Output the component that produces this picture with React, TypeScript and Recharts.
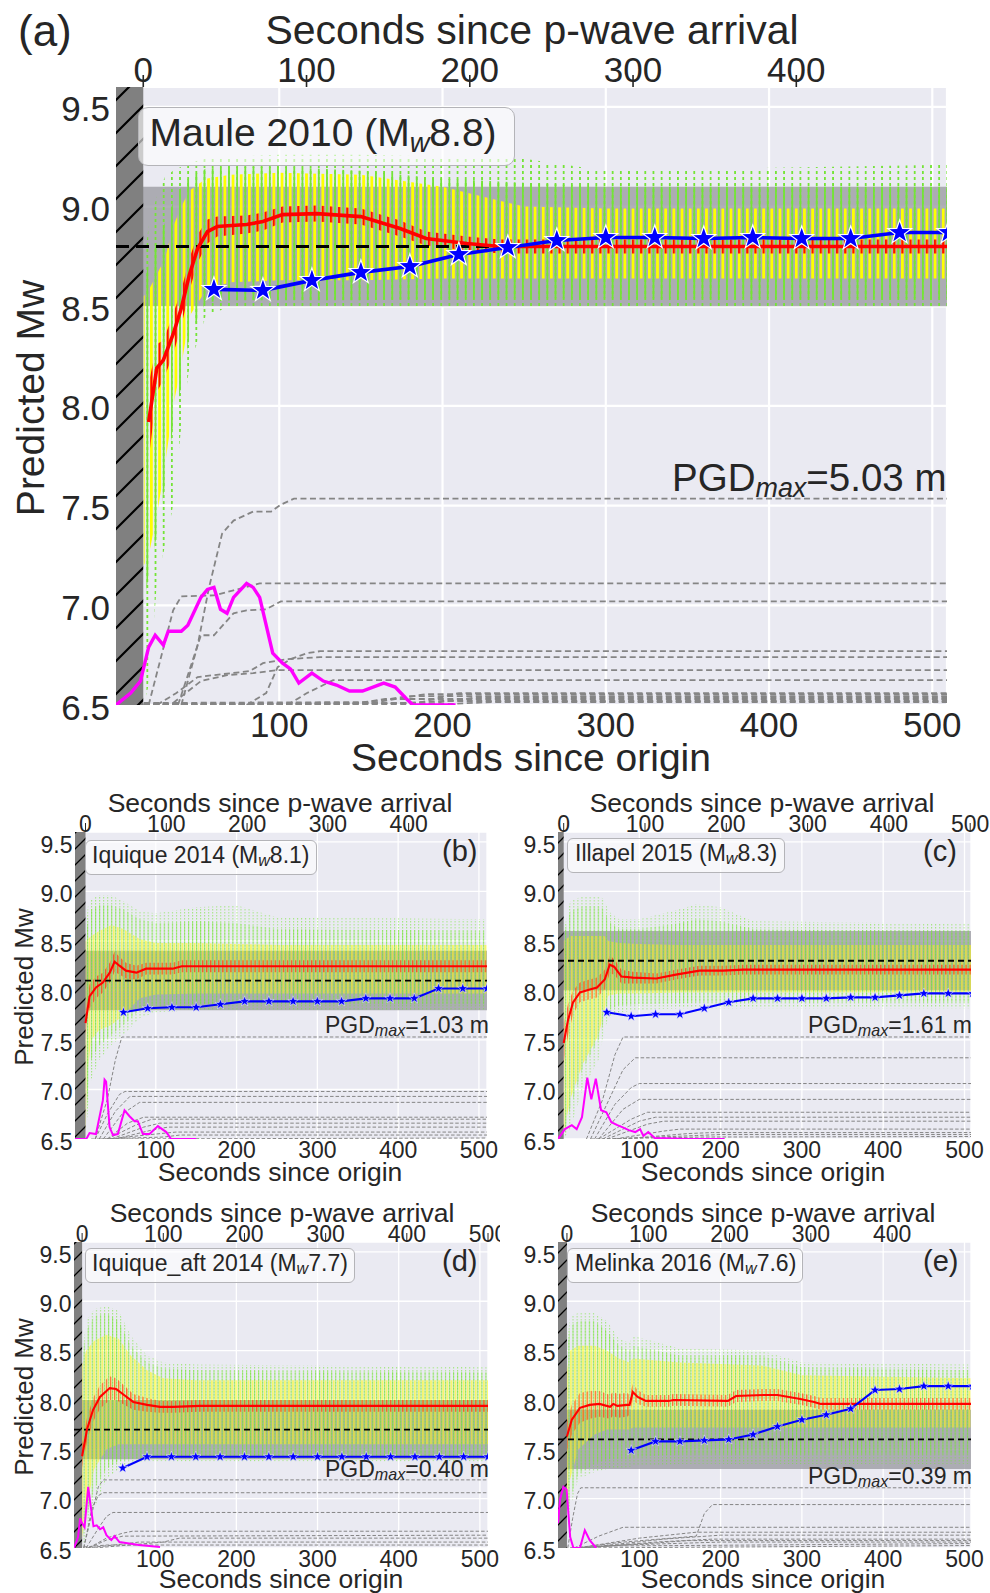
import React from "react"
import { ComposedChart, Area, Line, XAxis, YAxis, CartesianGrid, ReferenceArea, ReferenceLine } from "recharts"

// ---------- shared ticks ----------
const mwTicks = [6.5, 7.0, 7.5, 8.0, 8.5, 9.0, 9.5]
const originTicks = [100, 200, 300, 400, 500]
const pwaveTicks4 = [0, 100, 200, 300, 400]
const pwaveTicks5 = [0, 100, 200, 300, 400, 500]
const blueT30 = [60, 90, 120, 150, 180, 210, 240, 270, 300, 330, 360, 390, 420, 450, 480, 510]

// ---------- (a) Maule 2010 ----------
const maulePArrival = 16.7
const mauleMw = 8.8
const mauleRedT = [20, 25, 29, 35, 40, 45, 50, 56, 62, 80, 90, 102, 123, 150, 174, 190, 215, 235, 509]
const mauleRedMw = [7.92, 8.19, 8.23, 8.36, 8.49, 8.66, 8.79, 8.875, 8.9, 8.91, 8.925, 8.96, 8.965, 8.95, 8.89, 8.84, 8.815, 8.8, 8.8]
const mauleRedErr = [0.19, 0.12, 0.1, 0.1, 0.09, 0.08, 0.07, 0.06, 0.05, 0.045, 0.045, 0.04, 0.04, 0.04, 0.04, 0.035, 0.035, 0.035, 0.035]
const mauleBlueMw = [8.585, 8.58, 8.63, 8.67, 8.7, 8.76, 8.795, 8.83, 8.845, 8.845, 8.84, 8.845, 8.84, 8.84, 8.87, 8.87]
const mauleMagT = [0, 9, 15, 20, 24, 29, 32, 40, 44, 52, 56, 60, 64, 68, 72, 80, 84, 88, 96, 102, 107, 112, 120, 127, 135, 143, 151, 164, 171, 178, 182, 208]
const mauleMagMw = [6.5, 6.56, 6.62, 6.79, 6.85, 6.8, 6.87, 6.87, 6.9, 7.04, 7.08, 7.09, 6.98, 6.96, 7.04, 7.11, 7.09, 7.04, 6.76, 6.71, 6.68, 6.61, 6.66, 6.62, 6.6, 6.57, 6.57, 6.61, 6.59, 6.53, 6.5, 6.5]
const mauleEnvT = [17, 20, 25, 30, 35, 40, 45, 55, 70, 100, 150, 200, 250, 300, 509]
const mauleYLo = [7.2, 7.25, 7.45, 7.7, 8.0, 8.2, 8.45, 8.58, 8.62, 8.63, 8.63, 8.64, 8.64, 8.64, 8.64]
const mauleYHi = [8.55, 8.58, 8.66, 8.74, 8.9, 9.0, 9.08, 9.14, 9.16, 9.17, 9.16, 9.1, 9.0, 8.99, 8.99]
const mauleGLo = [7.0, 7.15, 7.35, 7.6, 7.9, 8.1, 8.35, 8.52, 8.53, 8.53, 8.53, 8.54, 8.54, 8.54, 8.54]
const mauleGHi = [8.6, 8.72, 8.82, 8.92, 9.02, 9.1, 9.15, 9.19, 9.2, 9.2, 9.18, 9.14, 9.12, 9.1, 9.1]
const mauleDLo = [6.5, 6.6, 7.1, 7.3, 7.5, 7.9, 8.2, 8.45, 8.5, 8.5, 8.5, 8.5, 8.5, 8.5, 8.5]
const mauleDHi = [8.7, 8.9, 9.05, 9.15, 9.18, 9.2, 9.22, 9.24, 9.25, 9.26, 9.26, 9.25, 9.24, 9.18, 9.21]
const maulePgd = [
  [[40, 6.5], [50, 6.8], [57, 7.09], [65, 7.36], [72, 7.425], [84, 7.47], [95, 7.47], [101, 7.505], [109, 7.535], [509, 7.535]],
  [[20, 6.5], [35, 6.975], [40, 7.045], [60, 7.05], [72, 7.075], [88, 7.11], [509, 7.11]],
  [[38, 6.5], [52, 6.85], [60, 6.85], [72, 6.96], [80, 6.975], [92, 6.98], [101, 7.02], [509, 7.02]],
  [[80, 6.5], [92, 6.56], [99, 6.69], [107, 6.73], [117, 6.76], [125, 6.77], [509, 6.77]],
  [[25, 6.5], [37, 6.56], [50, 6.64], [60, 6.65], [82, 6.67], [90, 6.71], [105, 6.73], [125, 6.74], [509, 6.74]],
  [[35, 6.51], [52, 6.62], [68, 6.65], [84, 6.66], [99, 6.675], [509, 6.675]],
  [[105, 6.5], [117, 6.56], [127, 6.6], [133, 6.625], [509, 6.625]],
  [[17, 6.5], [140, 6.5], [165, 6.53], [509, 6.53]],
  [[17, 6.505], [150, 6.51], [180, 6.545], [509, 6.545]],
  [[17, 6.51], [160, 6.515], [190, 6.555], [509, 6.555]],
  [[17, 6.5], [175, 6.51], [200, 6.52], [509, 6.52]],
  [[17, 6.505], [185, 6.51], [210, 6.56], [509, 6.56]],
  [[17, 6.5], [195, 6.51], [220, 6.538], [509, 6.538]],
  [[17, 6.5], [205, 6.505], [230, 6.515], [509, 6.515]],
]

// ---------- (b) Iquique 2014 ----------
const iqqPArrival = 13
const iqqMw = 8.1
const iqqRedT = [13, 18, 26, 34.5, 43, 49, 55, 63, 76, 88, 121, 132, 510]
const iqqRedMw = [7.67, 7.94, 8.03, 8.08, 8.18, 8.29, 8.25, 8.2, 8.18, 8.22, 8.22, 8.245, 8.245]
const iqqRedErr = [0.12, 0.12, 0.11, 0.1, 0.1, 0.1, 0.09, 0.08, 0.07, 0.06, 0.06, 0.06, 0.06]
const iqqBlueMw = [7.78, 7.82, 7.83, 7.83, 7.86, 7.89, 7.89, 7.89, 7.89, 7.89, 7.92, 7.92, 7.92, 8.02, 8.02, 8.02]
const iqqMagT = [0, 14, 18, 26, 34.5, 36.6, 38.5, 42.8, 47, 53, 61.3, 67.5, 73.7, 77.8, 84, 92.3, 102.6, 113, 119, 150]
const iqqMagMw = [6.5, 6.5, 6.56, 6.55, 6.89, 7.1, 7.08, 6.62, 6.54, 6.55, 6.79, 6.73, 6.68, 6.68, 6.55, 6.55, 6.63, 6.57, 6.5, 6.5]
const iqqEnvT = [13, 16, 20, 30, 45, 60, 80, 100, 150, 200, 250, 510]
const iqqYLo = [6.55, 7.2, 7.5, 7.6, 7.65, 7.75, 7.92, 7.96, 7.97, 7.97, 7.97, 7.97]
const iqqYHi = [8.5, 8.52, 8.55, 8.6, 8.66, 8.62, 8.52, 8.48, 8.48, 8.47, 8.46, 8.46]
const iqqGLo = [6.5, 7.0, 7.3, 7.45, 7.55, 7.65, 7.8, 7.85, 7.86, 7.86, 7.86, 7.86]
const iqqGHi = [8.52, 8.7, 8.82, 8.86, 8.86, 8.82, 8.72, 8.68, 8.7, 8.68, 8.62, 8.6]
const iqqDLo = [6.5, 6.8, 7.1, 7.3, 7.45, 7.55, 7.72, 7.78, 7.8, 7.8, 7.8, 7.8]
const iqqDHi = [8.55, 8.85, 8.92, 8.96, 8.96, 8.9, 8.8, 8.78, 8.84, 8.86, 8.74, 8.72]
const iqqPgd = [
  [[25, 6.5], [40, 6.9], [50, 7.3], [58, 7.53], [510, 7.53]],
  [[25, 6.5], [40, 6.75], [55, 6.95], [62, 6.98], [510, 6.98]],
  [[30, 6.5], [50, 6.78], [68, 6.93], [510, 6.93]],
  [[35, 6.5], [58, 6.75], [80, 6.87], [510, 6.87]],
  [[40, 6.5], [65, 6.66], [85, 6.72], [510, 6.72]],
  [[40, 6.5], [75, 6.64], [95, 6.7], [510, 6.7]],
  [[45, 6.5], [85, 6.62], [105, 6.66], [510, 6.66]],
  [[50, 6.5], [95, 6.59], [115, 6.62], [510, 6.62]],
  [[40, 6.5], [100, 6.55], [125, 6.57], [510, 6.57]],
  [[30, 6.5], [110, 6.52], [130, 6.54], [510, 6.54]],
  [[20, 6.5], [510, 6.51]],
]

// ---------- (c) Illapel 2015 ----------
const illPArrival = 7
const illMw = 8.3
const illRedT = [7, 12.3, 18.5, 27, 39, 48, 57.5, 63.6, 69, 78, 92, 121, 145, 174, 203, 228, 508]
const illRedMw = [7.47, 7.7, 7.88, 7.98, 8.01, 8.03, 8.11, 8.26, 8.24, 8.14, 8.13, 8.12, 8.16, 8.2, 8.2, 8.21, 8.21]
const illRedErr = [0.2, 0.16, 0.12, 0.1, 0.1, 0.1, 0.1, 0.09, 0.08, 0.07, 0.06, 0.05, 0.05, 0.05, 0.05, 0.05, 0.05]
const illBlueMw = [7.78, 7.74, 7.76, 7.76, 7.82, 7.88, 7.92, 7.92, 7.92, 7.92, 7.93, 7.93, 7.95, 7.97, 7.97, 7.97]
const illMagT = [0, 8.5, 17, 23, 29.5, 36, 41, 46.5, 53, 59.5, 65.6, 73, 79, 87, 95, 101, 105, 111, 119, 160, 205]
const illMagMw = [6.5, 6.6, 6.64, 6.6, 6.72, 7.12, 6.9, 7.11, 6.79, 6.77, 6.67, 6.64, 6.62, 6.59, 6.57, 6.6, 6.53, 6.57, 6.51, 6.5, 6.5]
const illEnvT = [7, 15, 30, 50, 57, 62, 75, 100, 150, 170, 200, 240, 508]
const illYLo = [6.55, 6.9, 7.25, 7.55, 7.8, 7.95, 7.97, 7.97, 7.98, 7.98, 7.98, 7.98, 7.98]
const illYHi = [8.5, 8.55, 8.55, 8.55, 8.55, 8.5, 8.48, 8.47, 8.46, 8.46, 8.46, 8.46, 8.46]
const illGLo = [6.5, 6.8, 7.2, 7.5, 7.7, 7.8, 7.85, 7.86, 7.87, 7.88, 7.88, 7.88, 7.88]
const illGHi = [8.55, 8.8, 8.85, 8.85, 8.82, 8.7, 8.62, 8.62, 8.68, 8.72, 8.7, 8.62, 8.6]
const illDLo = [6.5, 6.6, 7.0, 7.3, 7.6, 7.72, 7.78, 7.8, 7.82, 7.82, 7.82, 7.82, 7.82]
const illDHi = [8.6, 8.9, 8.95, 8.95, 8.92, 8.8, 8.72, 8.72, 8.82, 8.87, 8.84, 8.7, 8.67]
const illPgd = [
  [[35, 6.5], [55, 6.9], [70, 7.35], [80, 7.53], [508, 7.53]],
  [[40, 6.5], [60, 6.85], [80, 7.2], [95, 7.32], [508, 7.32]],
  [[45, 6.5], [70, 6.85], [90, 7.02], [100, 7.06], [508, 7.06]],
  [[50, 6.5], [80, 6.8], [100, 6.9], [508, 6.9]],
  [[50, 6.5], [90, 6.7], [110, 6.77], [508, 6.77]],
  [[55, 6.5], [100, 6.68], [120, 6.72], [508, 6.72]],
  [[60, 6.5], [110, 6.65], [130, 6.68], [508, 6.68]],
  [[70, 6.5], [130, 6.58], [150, 6.6], [508, 6.6]],
  [[80, 6.5], [160, 6.555], [190, 6.565], [508, 6.565]],
  [[60, 6.5], [170, 6.535], [200, 6.545], [508, 6.545]],
  [[40, 6.5], [180, 6.52], [508, 6.525]],
]

// ---------- (d) Iquique_aft 2014 ----------
const aftPArrival = 10
const aftMw = 7.7
const aftRedT = [10, 16, 23.5, 32, 44, 52, 60, 73, 90, 106, 122, 155, 510]
const aftRedMw = [7.43, 7.7, 7.9, 8.03, 8.12, 8.11, 8.06, 7.98, 7.95, 7.93, 7.93, 7.94, 7.94]
const aftRedErr = [0.12, 0.12, 0.12, 0.12, 0.12, 0.11, 0.1, 0.08, 0.07, 0.06, 0.06, 0.06, 0.06]
const aftBlueMw = [7.31, 7.425, 7.425, 7.425, 7.425, 7.425, 7.425, 7.425, 7.425, 7.425, 7.425, 7.425, 7.425, 7.425, 7.425, 7.425]
const aftMagT = [0, 5, 7.5, 10, 13, 17.5, 20, 24, 28, 32, 36, 40, 46, 50, 56, 64, 80, 106]
const aftMagMw = [6.5, 6.61, 6.8, 6.75, 6.71, 7.12, 6.96, 6.72, 6.73, 6.69, 6.71, 6.63, 6.58, 6.62, 6.56, 6.55, 6.53, 6.51]
const aftEnvT = [10, 15, 25, 40, 55, 70, 90, 110, 150, 510]
const aftYLo = [6.6, 6.9, 7.3, 7.5, 7.55, 7.55, 7.55, 7.55, 7.55, 7.55]
const aftYHi = [8.35, 8.5, 8.6, 8.66, 8.62, 8.45, 8.3, 8.22, 8.2, 8.2]
const aftGLo = [6.55, 6.8, 7.1, 7.3, 7.38, 7.4, 7.42, 7.42, 7.42, 7.42]
const aftGHi = [8.4, 8.7, 8.85, 8.88, 8.8, 8.55, 8.38, 8.32, 8.3, 8.28]
const aftDLo = [6.5, 6.6, 6.9, 7.2, 7.3, 7.35, 7.38, 7.38, 7.38, 7.38]
const aftDHi = [8.45, 8.8, 8.92, 8.95, 8.9, 8.65, 8.45, 8.38, 8.36, 8.33]
const aftPgd = [
  [[12, 6.5], [22, 6.85], [30, 7.12], [36, 7.19], [510, 7.19]],
  [[12, 6.5], [22, 6.9], [30, 7.03], [36, 7.06], [510, 7.06]],
  [[15, 6.5], [30, 6.7], [40, 6.82], [48, 6.86], [510, 6.86]],
  [[18, 6.5], [40, 6.6], [60, 6.65], [72, 6.67], [510, 6.67]],
  [[18, 6.5], [40, 6.58], [60, 6.62], [510, 6.63]],
  [[25, 6.5], [110, 6.56], [130, 6.6], [510, 6.6]],
  [[15, 6.5], [60, 6.54], [80, 6.56], [510, 6.56]],
  [[12, 6.51], [40, 6.53], [510, 6.53]],
]

// ---------- (e) Melinka 2016 ----------
const melPArrival = 11
const melMw = 7.6
const melRedT = [11, 17, 27, 39, 51, 64, 68, 73, 85, 88, 92, 98, 108, 136, 142, 209, 219, 253, 270, 298, 315, 323, 508]
const melRedMw = [7.63, 7.8, 7.92, 7.95, 7.96, 7.93, 7.96, 7.94, 7.95, 7.95, 8.08, 8.03, 7.99, 7.99, 8.0, 7.99, 8.04, 8.05, 8.05, 8.01, 7.98, 7.96, 7.96]
const melRedErr = [0.15, 0.15, 0.15, 0.14, 0.13, 0.12, 0.12, 0.12, 0.12, 0.1, 0.08, 0.07, 0.06, 0.06, 0.06, 0.06, 0.06, 0.06, 0.06, 0.06, 0.06, 0.06, 0.06]
const melBlueT = [90, 120, 150, 180, 210, 240, 270, 300, 330, 360, 390, 420, 450, 480, 510]
const melBlueMw = [7.49, 7.58, 7.58, 7.59, 7.6, 7.65, 7.73, 7.8, 7.85, 7.91, 8.1, 8.11, 8.14, 8.14, 8.14]
const melMagT = [0, 2.5, 6.6, 10.6, 15, 19, 27, 33, 39, 47]
const melMagMw = [6.75, 6.99, 7.12, 7.09, 6.61, 6.5, 6.5, 6.68, 6.58, 6.5]
const melEnvT = [11, 15, 25, 45, 60, 75, 88, 92, 150, 250, 300, 508]
const melYLo = [6.9, 7.2, 7.5, 7.65, 7.7, 7.7, 7.7, 7.72, 7.72, 7.72, 7.72, 7.72]
const melYHi = [8.3, 8.5, 8.55, 8.55, 8.5, 8.42, 8.38, 8.42, 8.38, 8.35, 8.25, 8.22]
const melGLo = [6.7, 7.0, 7.25, 7.35, 7.4, 7.4, 7.4, 7.42, 7.45, 7.45, 7.45, 7.45]
const melGHi = [8.5, 8.75, 8.8, 8.8, 8.7, 8.55, 8.5, 8.55, 8.45, 8.45, 8.33, 8.3]
const melDLo = [6.6, 6.9, 7.2, 7.27, 7.3, 7.3, 7.32, 7.33, 7.35, 7.35, 7.35, 7.35]
const melDHi = [8.6, 8.85, 8.88, 8.88, 8.8, 8.62, 8.58, 8.65, 8.52, 8.5, 8.38, 8.36]
const melPgd = [
  [[12, 6.5], [18, 6.8], [24, 7.05], [28, 7.11], [508, 7.11]],
  [[20, 6.5], [80, 6.56], [170, 6.62], [180, 6.85], [190, 6.94], [508, 6.94]],
  [[20, 6.5], [50, 6.62], [80, 6.71], [508, 6.71]],
  [[25, 6.5], [100, 6.6], [170, 6.66], [508, 6.66]],
  [[30, 6.5], [130, 6.59], [200, 6.63], [508, 6.63]],
  [[30, 6.5], [120, 6.56], [190, 6.59], [508, 6.59]],
  [[25, 6.5], [100, 6.54], [160, 6.575], [508, 6.575]],
  [[20, 6.5], [80, 6.53], [200, 6.56], [508, 6.56]],
  [[15, 6.5], [60, 6.52], [508, 6.545]],
  [[15, 6.5], [508, 6.525]],
]

// ---------- styling ----------
const INK = "#262626"
const FONT = '"Liberation Sans", Arial, Helvetica, sans-serif'
const BIG = {
  tickFs: 35, gridW: 2.2, lineW: 3.6, magW: 3.4, star: 12.5, starSW: 1.2, dashW: 3, dashArr: "13 7",
  pgdW: 1.8, pgdDash: "6 3.5", hatch: 33, hatchW: 2.2, topLen: 12, topDy: -5, botDy: 32, yGap: 6, yDy: 14.5,
  yW: 2.8, yOp: 1, gW: 1.8, gOp: 1, dotH: 6, dotL: 3, rW: 2.2, rOp: 0.95, tickW: 1.6,
}
const SMALL = {
  tickFs: 23, gridW: 1.3, lineW: 2.1, magW: 2, star: 5.5, starSW: 0.5, dashW: 1.8, dashArr: "6 4",
  pgdW: 1, pgdDash: "3.5 2", hatch: 16, hatchW: 1.3, topLen: 9, topDy: -0.5, botDy: 19, yGap: 2.5, yDy: 10.7,
  yW: 2, yOp: 0.55, gW: 1, gOp: 0.6, dotH: 3, dotL: 1.5, rW: 1.3, rOp: 0.55, tickW: 1,
}

const band = (t: number[], lo: number[], hi: number[]) => t.map((x, i) => ({ t: x, lo: lo[i], hi: hi[i] }))
const zip = (t: number[], v: number[]) => t.map((x, i) => ({ t: x, v: v[i] }))
const pairs = (c: number[][]) => c.map(([t, v]) => ({ t, v }))
const rangeKey = (d: any) => [d.lo, d.hi]

function Star({ cx, cy, r, sw }: any) {
  const pts: string[] = []
  for (let i = 0; i < 10; i++) {
    const a = -Math.PI / 2 + (i * Math.PI) / 5
    const rr = i % 2 === 0 ? r : r * 0.4
    pts.push(`${cx + rr * Math.cos(a)},${cy + rr * Math.sin(a)}`)
  }
  return <polygon points={pts.join(" ")} fill="#0000ff" stroke="#ffffff" strokeWidth={sw} />
}

type Lay = { left: number; top: number; wY: number; plotW: number; plotH: number; hTop: number; hBot: number; mr: number; xMax: number }

function Panel({ ev, lay, big }: { ev: any; lay: Lay; big: boolean }) {
  const S = big ? BIG : SMALL
  const pxs = lay.plotW / lay.xMax
  const P = 5 * pxs
  const x0 = lay.wY + ev.pArr * pxs
  const id = ev.id
  const H = S.hatch

  const yTick = (p: any) => (
    <text x={p.x - S.yGap} y={p.y + S.yDy} textAnchor="end" fontSize={S.tickFs} fill={INK} fontFamily={FONT}>
      {Number(p.payload.value).toFixed(1)}
    </text>
  )
  const botTick = (p: any) => (
    <text x={p.x} y={p.y + S.botDy} textAnchor="middle" fontSize={S.tickFs} fill={INK} fontFamily={FONT}>
      {p.payload.value}
    </text>
  )
  const topTick = (p: any) => (
    <g>
      <text x={p.x} y={p.y + S.topDy} textAnchor="middle" fontSize={S.tickFs} fill={INK} fontFamily={FONT}>
        {p.payload.value}
      </text>
      <line x1={p.x} x2={p.x} y1={p.y} y2={p.y - S.topLen} stroke={INK} strokeWidth={S.tickW} />
    </g>
  )

  return (
    <div style={{ position: "absolute", left: lay.left, top: lay.top }}>
      <svg width={0} height={0} style={{ position: "absolute" }}>
        <defs>
          <pattern id={`${id}-y`} patternUnits="userSpaceOnUse" x={x0 - S.yW / 2} y={0} width={P} height={10}>
            <rect x={0} y={0} width={S.yW} height={10} fill="#ffff00" fillOpacity={S.yOp} />
          </pattern>
          <pattern id={`${id}-g`} patternUnits="userSpaceOnUse" x={x0 + P / 2 - S.gW / 2} y={0} width={P} height={10}>
            <rect x={0} y={0} width={S.gW} height={10} fill="#74e436" fillOpacity={S.gOp} />
          </pattern>
          <pattern id={`${id}-d`} patternUnits="userSpaceOnUse" x={x0 + P / 2 - S.gW / 2} y={0} width={P} height={S.dotH}>
            <rect x={0} y={0} width={S.gW} height={S.dotL} fill="#74e436" fillOpacity={S.gOp} />
          </pattern>
          <pattern id={`${id}-r`} patternUnits="userSpaceOnUse" x={x0 - S.rW / 2} y={0} width={P} height={10}>
            <rect x={0} y={0} width={S.rW} height={10} fill="#ff0000" fillOpacity={S.rOp} />
          </pattern>
          <pattern id={`${id}-h`} patternUnits="userSpaceOnUse" x={0} y={0} width={H} height={H}>
            <rect x={0} y={0} width={H} height={H} fill="#808080" />
            <path d={`M0,${H} L${H},0 M-2,2 L2,-2 M${H - 2},${H + 2} L${H + 2},${H - 2}`} stroke="#000" strokeWidth={S.hatchW} />
          </pattern>
        </defs>
      </svg>
      <ComposedChart
        width={lay.wY + lay.plotW + lay.mr}
        height={lay.hTop + lay.plotH + lay.hBot}
        margin={{ top: 0, right: lay.mr, bottom: 0, left: 0 }}
      >
        <CartesianGrid xAxisId="bottom" fill="#eaeaf2" fillOpacity={1} stroke="#ffffff" strokeWidth={S.gridW} />
        <XAxis
          xAxisId="bottom" type="number" dataKey="t" domain={[0, lay.xMax]} allowDataOverflow
          ticks={originTicks} interval={0} height={lay.hBot} axisLine={false} tickLine={false}
          tickSize={0} tickMargin={0} tick={botTick}
        />
        <XAxis
          xAxisId="top" orientation="top" type="number" dataKey="t" domain={[-ev.pArr, lay.xMax - ev.pArr]} allowDataOverflow
          ticks={ev.topTicks} interval={0} height={lay.hTop} axisLine={false} tickLine={false}
          tickSize={0} tickMargin={0} tick={topTick}
        />
        <YAxis
          type="number" domain={[6.5, 9.6]} allowDataOverflow ticks={mwTicks} interval={0}
          width={lay.wY} axisLine={false} tickLine={false} tickSize={0} tickMargin={0} tick={yTick}
        />
        <ReferenceArea xAxisId="bottom" y1={ev.mw - 0.3} y2={ev.mw + 0.3} fill="#9a9aa2" fillOpacity={0.78} stroke="none" zIndex={110} />
        <Area xAxisId="bottom" data={band(ev.envT, ev.dLo, ev.dHi)} dataKey={rangeKey} type="linear" fill={`url(#${id}-d)`} fillOpacity={1} stroke="none" isAnimationActive={false} activeDot={false} zIndex={120} />
        <Area xAxisId="bottom" data={band(ev.envT, ev.gLo, ev.gHi)} dataKey={rangeKey} type="linear" fill={`url(#${id}-g)`} fillOpacity={1} stroke="none" isAnimationActive={false} activeDot={false} zIndex={130} />
        <Area xAxisId="bottom" data={band(ev.envT, ev.yLo, ev.yHi)} dataKey={rangeKey} type="linear" fill={`url(#${id}-y)`} fillOpacity={1} stroke="none" isAnimationActive={false} activeDot={false} zIndex={140} />
        <Area
          xAxisId="bottom"
          data={ev.redT.map((t: number, i: number) => ({ t, lo: ev.redMw[i] - ev.redErr[i], hi: ev.redMw[i] + ev.redErr[i] }))}
          dataKey={rangeKey} type="linear" fill={`url(#${id}-r)`} fillOpacity={1} stroke="none" isAnimationActive={false} activeDot={false} zIndex={150}
        />
        <ReferenceArea xAxisId="bottom" x1={0} x2={ev.pArr} fill={`url(#${id}-h)`} fillOpacity={1} stroke="none" zIndex={160} />
        {ev.pgd.map((c: number[][], i: number) => (
          <Line
            key={`pgd-${i}`} xAxisId="bottom" data={pairs(c)} dataKey="v" type="linear" stroke="#858585"
            strokeWidth={S.pgdW} strokeDasharray={S.pgdDash} dot={false} activeDot={false} isAnimationActive={false} zIndex={410}
          />
        ))}
        <Line xAxisId="bottom" data={zip(ev.magT, ev.magMw)} dataKey="v" type="linear" stroke="#ff00ff" strokeWidth={S.magW} dot={false} activeDot={false} isAnimationActive={false} zIndex={420} />
        <ReferenceLine xAxisId="bottom" y={ev.mw} stroke="#000000" strokeWidth={S.dashW} strokeDasharray={S.dashArr} zIndex={430} />
        <Line xAxisId="bottom" data={zip(ev.redT, ev.redMw)} dataKey="v" type="linear" stroke="#ff0000" strokeWidth={S.lineW} dot={false} activeDot={false} isAnimationActive={false} zIndex={440} />
        <Line
          xAxisId="bottom" data={zip(ev.blueT, ev.blueMw)} dataKey="v" type="linear" stroke="#0000ff" strokeWidth={S.lineW}
          dot={(p: any) => <Star key={`st-${p.index}`} cx={p.cx} cy={p.cy} r={S.star} sw={S.starSW} />}
          activeDot={false} isAnimationActive={false} zIndex={450}
        />
      </ComposedChart>
    </div>
  )
}

// ---------- HTML text helpers ----------
function Txt({ x, base, fs, anchor = "start", children }: any) {
  const tx = anchor === "middle" ? "translateX(-50%)" : anchor === "end" ? "translateX(-100%)" : undefined
  return (
    <div style={{ position: "absolute", left: x, top: base - 0.8465 * fs, fontSize: fs, lineHeight: 1, whiteSpace: "nowrap", transform: tx, color: INK, fontFamily: FONT }}>
      {children}
    </div>
  )
}
function VTxt({ cx, cy, fs, children }: any) {
  return (
    <div style={{ position: "absolute", left: cx, top: cy, fontSize: fs, lineHeight: 1, whiteSpace: "nowrap", transform: "translate(-50%,-50%) rotate(-90deg)", color: INK, fontFamily: FONT }}>
      {children}
    </div>
  )
}
const Sub = ({ children }: any) => (
  <span style={{ fontSize: "0.7em", fontStyle: "italic", position: "relative", top: "0.22em" }}>{children}</span>
)
function Box({ x, y, w, h, fs, base, pad, children, big }: any) {
  const bw = big ? 1.5 : 1
  return (
    <div style={{ position: "absolute", left: x, top: y, width: w, height: h, boxSizing: "border-box", border: `${bw}px solid #b4b4b8`, borderRadius: big ? 10 : 6, background: "rgba(255,255,255,0.6)" }}>
      <div style={{ position: "absolute", left: pad - bw, top: base - y - 0.8465 * fs - bw, fontSize: fs, lineHeight: 1, whiteSpace: "nowrap", color: INK, fontFamily: FONT }}>
        {children}
      </div>
    </div>
  )
}

const evA = { id: "a", pArr: maulePArrival, mw: mauleMw, redT: mauleRedT, redMw: mauleRedMw, redErr: mauleRedErr, blueT: blueT30, blueMw: mauleBlueMw, magT: mauleMagT, magMw: mauleMagMw, envT: mauleEnvT, yLo: mauleYLo, yHi: mauleYHi, gLo: mauleGLo, gHi: mauleGHi, dLo: mauleDLo, dHi: mauleDHi, pgd: maulePgd, topTicks: pwaveTicks4 }
const evB = { id: "b", pArr: iqqPArrival, mw: iqqMw, redT: iqqRedT, redMw: iqqRedMw, redErr: iqqRedErr, blueT: blueT30, blueMw: iqqBlueMw, magT: iqqMagT, magMw: iqqMagMw, envT: iqqEnvT, yLo: iqqYLo, yHi: iqqYHi, gLo: iqqGLo, gHi: iqqGHi, dLo: iqqDLo, dHi: iqqDHi, pgd: iqqPgd, topTicks: pwaveTicks4 }
const evC = { id: "c", pArr: illPArrival, mw: illMw, redT: illRedT, redMw: illRedMw, redErr: illRedErr, blueT: blueT30, blueMw: illBlueMw, magT: illMagT, magMw: illMagMw, envT: illEnvT, yLo: illYLo, yHi: illYHi, gLo: illGLo, gHi: illGHi, dLo: illDLo, dHi: illDHi, pgd: illPgd, topTicks: pwaveTicks5 }
const evD = { id: "d", pArr: aftPArrival, mw: aftMw, redT: aftRedT, redMw: aftRedMw, redErr: aftRedErr, blueT: blueT30, blueMw: aftBlueMw, magT: aftMagT, magMw: aftMagMw, envT: aftEnvT, yLo: aftYLo, yHi: aftYHi, gLo: aftGLo, gHi: aftGHi, dLo: aftDLo, dHi: aftDHi, pgd: aftPgd, topTicks: pwaveTicks5 }
const evE = { id: "e", pArr: melPArrival, mw: melMw, redT: melRedT, redMw: melRedMw, redErr: melRedErr, blueT: melBlueT, blueMw: melBlueMw, magT: melMagT, magMw: melMagMw, envT: melEnvT, yLo: melYLo, yHi: melYHi, gLo: melGLo, gHi: melGHi, dLo: melDLo, dHi: melDHi, pgd: melPgd, topTicks: pwaveTicks4 }

export default function App() {
  return (
    <div style={{ position: "absolute", left: 0, top: 0, width: 990, height: 1593, background: "#ffffff", overflow: "hidden", fontFamily: FONT }}>
      <Panel ev={evA} big lay={{ left: 6, top: 45, wY: 110, plotW: 831, plotH: 618, hTop: 42, hBot: 40, mr: 25, xMax: 509 }} />
      <Panel ev={evB} big={false} lay={{ left: 5, top: 807, wY: 70, plotW: 412, plotH: 307, hTop: 25, hBot: 25, mr: 13, xMax: 510 }} />
      <Panel ev={evC} big={false} lay={{ left: 498, top: 807, wY: 60, plotW: 413, plotH: 307, hTop: 25, hBot: 25, mr: 19, xMax: 508 }} />
      <Panel ev={evD} big={false} lay={{ left: 5, top: 1217, wY: 69, plotW: 414, plotH: 306, hTop: 25, hBot: 25, mr: 12, xMax: 510 }} />
      <Panel ev={evE} big={false} lay={{ left: 498, top: 1217, wY: 60, plotW: 413, plotH: 306, hTop: 25, hBot: 25, mr: 19, xMax: 508 }} />

      {/* (a) texts */}
      <Txt x={18} base={46} fs={44}>(a)</Txt>
      <Txt x={532} base={45} fs={41} anchor="middle">Seconds since p-wave arrival</Txt>
      <Txt x={531} base={771} fs={39} anchor="middle">Seconds since origin</Txt>
      <VTxt cx={29.5} cy={398} fs={39}>Predicted Mw</VTxt>
      <Box big x={138} y={107} w={377} h={59} fs={39} base={147} pad={12}>Maule 2010 (M<Sub>w</Sub>8.8)</Box>
      <Txt x={672} base={492} fs={38.5}>PGD<Sub>max</Sub>=5.03 m</Txt>

      {/* (b) */}
      <Txt x={442} base={862} fs={29}>(b)</Txt>
      <Txt x={280} base={812} fs={26.5} anchor="middle">Seconds since p-wave arrival</Txt>
      <Txt x={280} base={1181} fs={26.5} anchor="middle">Seconds since origin</Txt>
      <VTxt cx={24} cy={987} fs={26}>Predicted Mw</VTxt>
      <Box x={85} y={840} w={232} h={35} fs={23} base={863} pad={7}>Iquique 2014 (M<Sub>w</Sub>8.1)</Box>
      <Txt x={325} base={1033} fs={23}>PGD<Sub>max</Sub>=1.03 m</Txt>

      {/* (c) */}
      <Txt x={923} base={862} fs={29}>(c)</Txt>
      <Txt x={762} base={812} fs={26.5} anchor="middle">Seconds since p-wave arrival</Txt>
      <Txt x={763} base={1181} fs={26.5} anchor="middle">Seconds since origin</Txt>
      <Box x={567} y={838} w={218} h={35} fs={23} base={861} pad={8}>Illapel 2015 (M<Sub>w</Sub>8.3)</Box>
      <Txt x={808} base={1033} fs={23}>PGD<Sub>max</Sub>=1.61 m</Txt>

      {/* (d) */}
      <Txt x={442} base={1272} fs={29}>(d)</Txt>
      <Txt x={282} base={1222} fs={26.5} anchor="middle">Seconds since p-wave arrival</Txt>
      <Txt x={281} base={1588} fs={26.5} anchor="middle">Seconds since origin</Txt>
      <VTxt cx={24} cy={1397} fs={26}>Predicted Mw</VTxt>
      <Box x={85} y={1248} w={270} h={35} fs={23} base={1271} pad={7}>Iquique_aft 2014 (M<Sub>w</Sub>7.7)</Box>
      <Txt x={325} base={1477} fs={23}>PGD<Sub>max</Sub>=0.40 m</Txt>

      {/* (e) */}
      <Txt x={923} base={1272} fs={29}>(e)</Txt>
      <Txt x={763} base={1222} fs={26.5} anchor="middle">Seconds since p-wave arrival</Txt>
      <Txt x={763} base={1588} fs={26.5} anchor="middle">Seconds since origin</Txt>
      <Box x={567} y={1248} w={236} h={35} fs={23} base={1271} pad={8}>Melinka 2016 (M<Sub>w</Sub>7.6)</Box>
      <Txt x={808} base={1484} fs={23}>PGD<Sub>max</Sub>=0.39 m</Txt>
    </div>
  )
}
